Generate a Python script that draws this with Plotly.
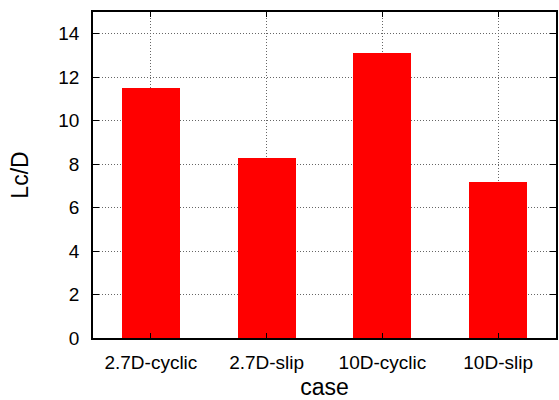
import plotly.graph_objects as go

cases = ["2.7D-cyclic", "2.7D-slip", "10D-cyclic", "10D-slip"]
lc_d = [11.5, 8.3, 13.1, 7.2]
y_ticks = [0, 2, 4, 6, 8, 10, 12, 14]

fig = go.Figure(go.Bar(
    x=list(range(len(cases))), y=lc_d, width=0.5,
    marker=dict(color="#ff0000", line=dict(width=0)),
))

font = dict(family="Liberation Sans, Arial, sans-serif", size=19, color="black")
fig.update_layout(
    width=559, height=400,
    margin=dict(l=93, r=1, t=12, b=62),
    paper_bgcolor="white", plot_bgcolor="white",
    font=font, showlegend=False, bargap=0,
    xaxis=dict(
        range=[-0.5, 3.5], tickmode="array",
        tickvals=list(range(len(cases))), ticktext=cases,
        showline=True, linecolor="black", linewidth=1.5, mirror="ticks",
        ticks="inside", ticklen=5, tickcolor="black", tickwidth=1,
        showgrid=True, gridcolor="#666666", griddash="1px,2px", gridwidth=1,
        title=dict(text="case", standoff=9), ticklabelstandoff=6,
        zeroline=False,
    ),
    yaxis=dict(
        range=[0, 15], tickmode="array", tickvals=y_ticks,
        showline=True, linecolor="black", linewidth=1.5, mirror="ticks",
        ticks="inside", ticklen=6, tickcolor="black", tickwidth=1,
        showgrid=True, gridcolor="#666666", griddash="1px,2px", gridwidth=1,
        title=dict(text="Lc/D", standoff=23), ticklabelstandoff=8,
        zeroline=False,
    ),
)
fig.write_html("out.html")
